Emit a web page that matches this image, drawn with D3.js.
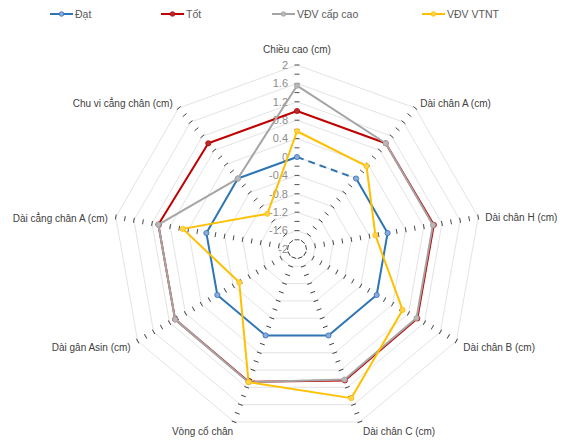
<!DOCTYPE html>
<html><head><meta charset="utf-8">
<script src="https://cdn.jsdelivr.net/npm/d3@7/dist/d3.min.js"></script>
<style>
body{margin:0;background:#fff;}
svg{display:block;font-family:"Liberation Sans",Arial,sans-serif;}
</style></head>
<body><svg id="c" width="563" height="447"></svg>
<script>
const categories = ["Chiều cao (cm)","Dài chân A (cm)","Dài chân H (cm)","Dài chân B (cm)","Dài chân C (cm)","Vòng cổ chân","Dài gân Asin (cm)","Dài cẳng chân A (cm)","Chu vi cẳng chân (cm)"];
const seriesNames = ["Đạt","Tốt","VĐV cấp cao","VĐV VTNT"];
const dat    = [0, 0, 0, 0, 0, 0, 0, 0, 0];
const tot    = [1.0, 1.0, 1.02, 1.02, 1.04, 1.07, 1.06, 1.06, 1.0];
const capCao = [1.55, 1.0, 1.0, 1.0, 1.02, 1.08, 1.06, 1.06, 0];
const vtnt   = [0.56, 0.35, -0.27, 0.65, 1.45, 1.08, -0.55, 0.52, -1.0];
const tickValues = [2, 1.6, 1.2, 0.8, 0.4, 0, -0.4, -0.8, -1.2, -1.6, -2];
const minorTicks = [-1.8,-1.6,-1.4,-1.2,-1.0,-0.8,-0.6,-0.4,-0.2,0,0.2,0.4,0.6,0.8,1.0,1.2,1.4,1.6,1.8,2.0];
const colors = ["#2e75b6","#c00000","#a5a5a5","#ffc000"];
const markerFill = ["#8fa9d9","#b03030","#b8b8b8","#ffd34d"];

const svg = d3.select("#c");
const cx = 297, cy = 249, R = 184;
const n = categories.length;
const r = d3.scaleLinear().domain([-2, 2]).range([0, R]);
const ang = d3.scaleLinear().domain([0, n]).range([0, 2 * Math.PI]);
const g = svg.append("g").attr("transform", `translate(${cx},${cy})`);

// grid rings
const ringLine = d3.lineRadial().angle((d, i) => ang(i)).radius(d => r(d)).curve(d3.curveLinearClosed);
tickValues.filter(v => v > -2).forEach(v => {
  g.append("path").attr("d", ringLine(categories.map(() => v)))
    .attr("fill", "none").attr("stroke", "#dcdcdc").attr("stroke-width", 0.8);
});

// tick marks on each spoke
categories.forEach((c, i) => {
  const a = ang(i) * 180 / Math.PI;
  const tg = g.append("g").attr("transform", `rotate(${a})`);
  tg.selectAll("line").data(minorTicks).join("line")
    .attr("x1", -2.5).attr("x2", 2.5)
    .attr("y1", d => -r(d)).attr("y2", d => -r(d))
    .attr("stroke", "#404040").attr("stroke-width", 0.9);
});

// tick labels
g.selectAll("text.tl").data(tickValues).join("text").attr("class", "tl")
  .attr("x", -9).attr("y", d => -r(d)).attr("dy", "0.35em")
  .attr("text-anchor", "end").attr("font-size", 11).attr("fill", "#8c8c8c")
  .text(d => d3.format("")(d).replace("−", "-"));

// category labels
categories.forEach((c, i) => {
  const a = ang(i);
  const px = Math.sin(a) * R, py = -Math.cos(a) * R;
  let anchor = "middle", dx = 0, dy = 0;
  if (i === 0) { dy = -16; }
  else if (a < Math.PI) { anchor = "start"; }
  else { anchor = "end"; }
  if (i === 1) { dy = -5; dx = 5; }
  if (i === 2) { dy = 0; dx = 7; }
  if (i === 3) { dy = 6; dx = 7; }
  if (i === 4) { dy = 10; dx = 3; anchor = "start"; }
  if (i === 5) { dy = 10; dx = -1; anchor = "end"; }
  if (i === 6) { dy = 6; dx = -7; }
  if (i === 7) { dy = 1; dx = -8; }
  if (i === 8) { dy = -5; dx = -6; }
  g.append("text").attr("x", px + dx).attr("y", py + dy).attr("dy", "0.35em")
    .attr("text-anchor", anchor).attr("font-size", 10).attr("fill", "#404040").text(c);
});

// series
const allSeries = [dat, tot, capCao, vtnt];
const pt = (v, i) => [Math.sin(ang(i)) * r(v), -Math.cos(ang(i)) * r(v)];
allSeries.forEach((s, k) => {
  const sg = g.append("g");
  s.forEach((v, i) => {
    const j = (i + 1) % n;
    const p1 = pt(v, i), p2 = pt(s[j], j);
    const ln = sg.append("line").attr("x1", p1[0]).attr("y1", p1[1]).attr("x2", p2[0]).attr("y2", p2[1])
      .attr("stroke", colors[k]).attr("stroke-width", 2).attr("stroke-linecap", "round");
    if (k === 0 && i === 0) ln.attr("stroke-dasharray", "7,5").attr("stroke-linecap", "butt");
  });
  sg.selectAll("circle").data(s).join("circle")
    .attr("cx", (d, i) => pt(d, i)[0]).attr("cy", (d, i) => pt(d, i)[1]).attr("r", 2.6)
    .attr("fill", markerFill[k]).attr("stroke", colors[k]).attr("stroke-width", 0.8);
});

// legend
const legX = [50, 161, 272, 422];
const lg = svg.append("g");
seriesNames.forEach((name, k) => {
  const x = legX[k], y = 14;
  lg.append("line").attr("x1", x).attr("x2", x + 23).attr("y1", y).attr("y2", y)
    .attr("stroke", colors[k]).attr("stroke-width", 2);
  lg.append("circle").attr("cx", x + 11.5).attr("cy", y).attr("r", 2.3)
    .attr("fill", markerFill[k]).attr("stroke", colors[k]).attr("stroke-width", 0.8);
  lg.append("text").attr("x", x + 25).attr("y", y).attr("dy", "0.35em")
    .attr("font-size", 10.5).attr("fill", "#595959").text(name);
});
</script></body></html>
